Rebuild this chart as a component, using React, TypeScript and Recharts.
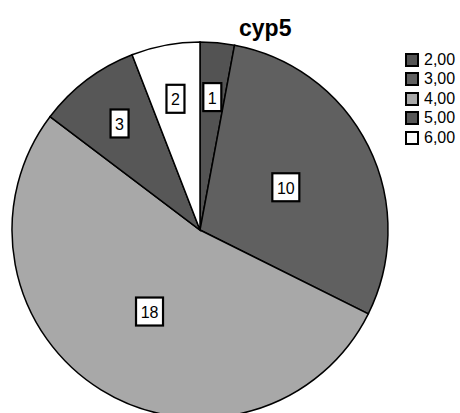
import React from 'react';
import { PieChart, Pie, Cell, Legend } from 'recharts';

const categories = ['2,00', '3,00', '4,00', '5,00', '6,00'];
const counts = [1, 10, 18, 3, 2];
const colors = ['#535353', '#606060', '#a8a8a8', '#575757', '#ffffff'];

const data = categories.map((name, i) => ({ name, value: counts[i] }));

const RADIAN = Math.PI / 180;

const renderLabel = (props: any) => {
  const { cx, cy, midAngle, outerRadius, value } = props;
  // small slices get their label pushed outwards
  const r = outerRadius * (value <= 3 ? 0.71 : 0.51);
  const x = cx + r * Math.cos(-midAngle * RADIAN);
  const y = cy + r * Math.sin(-midAngle * RADIAN);
  const text = String(value);
  const w = text.length * 9 + 9;
  const h = 28;
  return (
    <g>
      <rect x={x - w / 2} y={y - h / 2} width={w} height={h} fill="#fff" stroke="#000" strokeWidth={2.2} />
      <text
        x={x}
        y={y + 1}
        textAnchor="middle"
        dominantBaseline="central"
        fontFamily="Liberation Sans, Arial, sans-serif"
        fontSize={16}
        fill="#000"
      >
        {text}
      </text>
    </g>
  );
};

const renderLegend = () => (
  <div style={{ fontFamily: 'Liberation Sans, Arial, sans-serif', fontSize: 16, color: '#000' }}>
    {categories.map((c, i) => (
      <div key={c} style={{ display: 'flex', alignItems: 'center', height: 19.5 }}>
        <span
          style={{
            display: 'inline-block',
            width: 10,
            height: 10,
            background: colors[i],
            border: '2px solid #000',
            marginRight: 5,
          }}
        />
        <span>{c}</span>
      </div>
    ))}
  </div>
);

export default function App() {
  return (
    <div style={{ position: 'absolute', left: 0, top: 0, width: 460, height: 413, background: '#fff', overflow: 'hidden' }}>
      <div
        style={{
          position: 'absolute',
          left: 239,
          top: 15,
          fontFamily: 'Liberation Sans, Arial, sans-serif',
          fontWeight: 'bold',
          fontSize: 23,
          color: '#000',
        }}
      >
        cyp5
      </div>
      <PieChart width={460} height={413} margin={{ top: 0, right: 0, bottom: 0, left: 0 }}>
        <Pie
          data={data}
          dataKey="value"
          nameKey="name"
          cx={200}
          cy={230}
          outerRadius={188}
          startAngle={90}
          endAngle={-270}
          stroke="#000"
          strokeWidth={1.5}
          label={renderLabel}
          labelLine={false}
          isAnimationActive={false}
        >
          {data.map((d, i) => (
            <Cell key={d.name} fill={colors[i]} />
          ))}
        </Pie>
        <Legend
          layout="vertical"
          align="right"
          verticalAlign="top"
          content={renderLegend}
          wrapperStyle={{ left: 405, top: 50, width: 55 }}
        />
      </PieChart>
    </div>
  );
}
